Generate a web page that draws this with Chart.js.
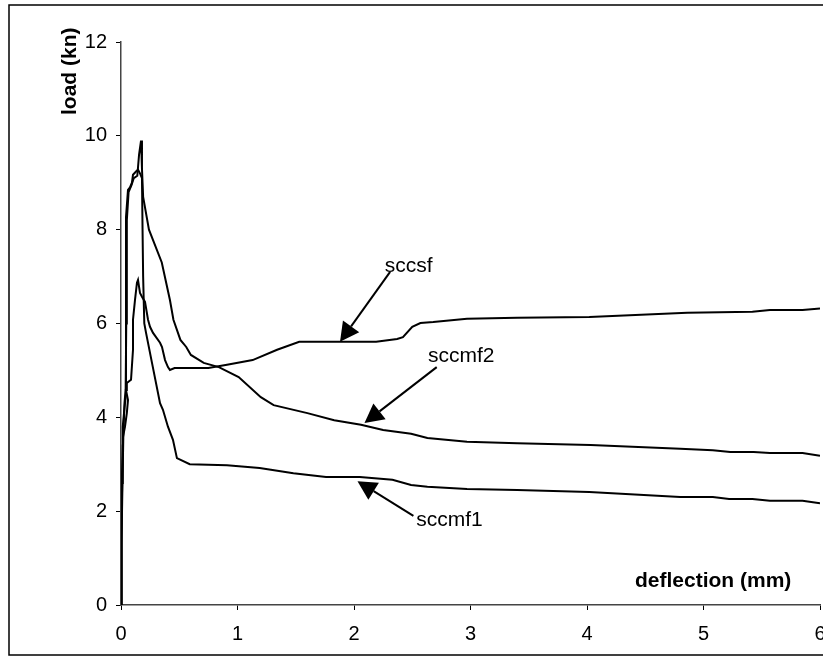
<!DOCTYPE html>
<html>
<head>
<meta charset="utf-8">
<script src="https://cdn.jsdelivr.net/npm/chart.js@4.4.1/dist/chart.umd.min.js"></script>
<style>
  html, body { margin: 0; padding: 0; background: #fff; }
  #wrap { position: relative; width: 823px; height: 660px; }
  canvas { display: block; }
</style>
</head>
<body>
<div id="wrap"><canvas id="c" width="823" height="660"></canvas></div>
<script>
// ---- data (deflection mm, load kN) ----
const seriesNames = ["sccsf", "sccmf1", "sccmf2"];

const sccsfX = [0, 0.003, 0.008, 0.015, 0.017, 0.034, 0.05, 0.06, 0.043, 0.05, 0.086, 0.103, 0.103, 0.12, 0.137, 0.146, 0.163, 0.18, 0.206, 0.232, 0.249, 0.275, 0.335, 0.352, 0.378, 0.403, 0.42, 0.46, 0.75, 0.91, 1.13, 1.34, 1.53, 2.05, 2.19, 2.37, 2.42, 2.50, 2.57, 2.68, 2.97, 3.40, 4.02, 4.86, 5.42, 5.57, 5.85, 6.0];
const sccsfY = [0, 1.3, 2.5, 3.4, 3.58, 3.8, 4.09, 4.37, 4.58, 4.73, 4.8, 5.44, 6.08, 6.5, 6.87, 6.93, 6.65, 6.57, 6.46, 6.08, 5.93, 5.8, 5.59, 5.5, 5.22, 5.07, 5.01, 5.05, 5.05, 5.12, 5.22, 5.44, 5.61, 5.61, 5.61, 5.67, 5.71, 5.93, 6.01, 6.03, 6.10, 6.12, 6.14, 6.23, 6.25, 6.29, 6.29, 6.32];

const sccmf1X = [0, 0.003, 0.01, 0.015, 0.03, 0.043, 0.043, 0.043, 0.06, 0.077, 0.094, 0.103, 0.129, 0.146, 0.163, 0.18, 0.185, 0.19, 0.2, 0.215, 0.266, 0.335, 0.36, 0.403, 0.446, 0.48, 0.59, 0.91, 1.19, 1.48, 1.76, 2.05, 2.33, 2.49, 2.63, 2.97, 3.40, 4.02, 4.80, 5.08, 5.22, 5.42, 5.57, 5.85, 6.0];
const sccmf1Y = [0, 1.5, 2.6, 3.8, 4.2, 4.5, 6.08, 8.27, 8.85, 8.9, 9.0, 9.17, 9.24, 9.28, 9.2, 9.1, 8.0, 7.0, 6.0, 5.8, 5.16, 4.3, 4.16, 3.8, 3.52, 3.13, 3.0, 2.98, 2.92, 2.81, 2.73, 2.73, 2.67, 2.56, 2.52, 2.47, 2.45, 2.41, 2.30, 2.30, 2.26, 2.26, 2.22, 2.22, 2.17];

const sccmf2X = [0, 0.004, 0.01, 0.02, 0.03, 0.04, 0.045, 0.05, 0.065, 0.09, 0.11, 0.14, 0.155, 0.172, 0.18, 0.19, 0.24, 0.35, 0.42, 0.45, 0.51, 0.56, 0.60, 0.71, 0.84, 1.01, 1.20, 1.31, 1.60, 1.83, 2.06, 2.25, 2.49, 2.63, 2.97, 3.40, 4.03, 4.80, 5.08, 5.23, 5.43, 5.57, 5.85, 6.0];
const sccmf2Y = [0, 1.3, 2.2, 3.6, 4.3, 4.6, 6.0, 8.2, 8.8, 8.95, 9.1, 9.15, 9.6, 9.9, 9.3, 8.7, 8.0, 7.3, 6.5, 6.08, 5.65, 5.5, 5.33, 5.16, 5.07, 4.86, 4.43, 4.26, 4.09, 3.94, 3.84, 3.73, 3.65, 3.56, 3.48, 3.45, 3.41, 3.33, 3.30, 3.26, 3.26, 3.24, 3.24, 3.18];

const xTicks = [0, 1, 2, 3, 4, 5, 6];
const yTicks = [0, 2, 4, 6, 8, 10, 12];

// annotation callouts: label, label position, arrow tail, arrow tip (data coords)
const calloutLabels = ["sccsf", "sccmf2", "sccmf1"];
const calloutLabelX = [2.47, 2.92, 2.82];
const calloutLabelY = [7.23, 5.31, 1.81];
const calloutTailX = [2.31, 2.71, 2.51];
const calloutTailY = [7.10, 5.07, 1.90];
const calloutTipX = [1.88, 2.09, 2.03];
const calloutTipY = [5.61, 3.88, 2.64];

function pts(xs, ys) { return xs.map((x, i) => ({ x: x, y: ys[i] })); }

const lineStyle = { showLine: true, borderColor: '#000', borderWidth: 2, pointRadius: 0, pointHoverRadius: 0, tension: 0, fill: false };

const frameAndNotes = {
  id: 'frameAndNotes',
  afterDraw(chart) {
    const ctx = chart.ctx;
    const xs = chart.scales.x, ys = chart.scales.y;
    ctx.save();
    // outer frame
    ctx.strokeStyle = '#000';
    ctx.lineWidth = 1.5;
    ctx.strokeRect(9, 5, 830, 650);
    // callouts
    for (let i = 0; i < calloutLabels.length; i++) {
      const tx = xs.getPixelForValue(calloutTailX[i]), ty = ys.getPixelForValue(calloutTailY[i]);
      const px = xs.getPixelForValue(calloutTipX[i]), py = ys.getPixelForValue(calloutTipY[i]);
      const dx = px - tx, dy = py - ty, len = Math.hypot(dx, dy);
      const ux = dx / len, uy = dy / len;
      const hl = 19, hw = 10;
      const bx = px - ux * hl, by = py - uy * hl;
      ctx.strokeStyle = '#000';
      ctx.lineWidth = 2;
      ctx.beginPath(); ctx.moveTo(tx, ty); ctx.lineTo(bx, by); ctx.stroke();
      ctx.fillStyle = '#000';
      ctx.beginPath();
      ctx.moveTo(px, py);
      ctx.lineTo(bx - uy * hw, by + ux * hw);
      ctx.lineTo(bx + uy * hw, by - ux * hw);
      ctx.closePath(); ctx.fill();
      ctx.font = '21px "Liberation Sans", Arial, sans-serif';
      ctx.textAlign = 'center'; ctx.textBaseline = 'middle';
      ctx.fillText(calloutLabels[i], xs.getPixelForValue(calloutLabelX[i]), ys.getPixelForValue(calloutLabelY[i]));
    }
    // axis titles
    ctx.fillStyle = '#000';
    ctx.font = 'bold 21px "Liberation Sans", Arial, sans-serif';
    ctx.textAlign = 'left'; ctx.textBaseline = 'alphabetic';
    ctx.fillText('deflection (mm)', 635, 587);
    ctx.translate(76, 115);
    ctx.rotate(-Math.PI / 2);
    ctx.fillText('load (kn)', 0, 0);
    ctx.restore();
  }
};

new Chart(document.getElementById('c'), {
  type: 'scatter',
  data: {
    datasets: [
      Object.assign({ label: seriesNames[0], data: pts(sccsfX, sccsfY) }, lineStyle),
      Object.assign({ label: seriesNames[1], data: pts(sccmf1X, sccmf1Y) }, lineStyle),
      Object.assign({ label: seriesNames[2], data: pts(sccmf2X, sccmf2Y) }, lineStyle)
    ]
  },
  options: {
    responsive: false,
    animation: false,
    events: [],
    layout: { padding: { left: 0, right: 3, top: 42, bottom: 0 } },
    plugins: { legend: { display: false }, tooltip: { enabled: false } },
    scales: {
      x: {
        type: 'linear', min: 0, max: 6,
        afterBuildTicks(s) { s.ticks = xTicks.map(v => ({ value: v })); },
        afterFit(s) { s.height = 55; s.paddingLeft = 0; s.paddingRight = 0; },
        grid: { drawOnChartArea: false, drawTicks: true, tickLength: 5, color: '#000' },
        border: { display: true, color: '#444', width: 1.5 },
        ticks: { color: '#000', padding: 12, maxRotation: 0, font: { family: '"Liberation Sans", Arial, sans-serif', size: 20 } }
      },
      y: {
        type: 'linear', min: 0, max: 12,
        afterBuildTicks(s) { s.ticks = yTicks.map(v => ({ value: v })); },
        afterFit(s) { s.width = 121; s.paddingTop = 0; s.paddingBottom = 0; },
        grid: { drawOnChartArea: false, drawTicks: true, tickLength: 5, color: '#000' },
        border: { display: true, color: '#444', width: 1.5 },
        ticks: { color: '#000', padding: 9, font: { family: '"Liberation Sans", Arial, sans-serif', size: 20 } }
      }
    }
  },
  plugins: [frameAndNotes]
});
</script>
</body>
</html>
